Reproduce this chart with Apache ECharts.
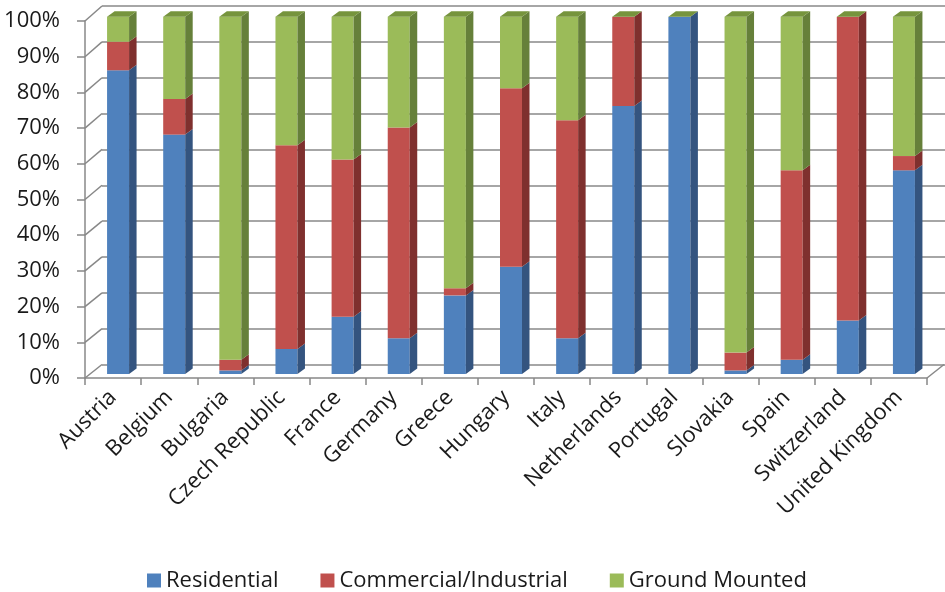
<!DOCTYPE html>
<html><head><meta charset="utf-8">
<script src="https://cdn.jsdelivr.net/npm/echarts@6/dist/echarts.min.js"></script>
<style>html,body{margin:0;padding:0;background:#fff}#c{width:945px;height:592px}</style>
</head><body><div id="c"></div>
<script>
// ---- data ----
const categories = ['Austria','Belgium','Bulgaria','Czech Republic','France','Germany','Greece','Hungary','Italy','Netherlands','Portugal','Slovakia','Spain','Switzerland','United Kingdom'];
const residential = [85, 67, 1, 7, 16, 10, 22, 30, 10, 75, 100, 1, 4, 15, 57];
const commercial  = [8, 10, 3, 57, 44, 59, 2, 50, 61, 25, 0, 5, 53, 85, 4];
const ground      = [7, 23, 96, 36, 40, 31, 76, 20, 29, 0, 0, 94, 43, 0, 39];
const seriesNames = ['Residential', 'Commercial/Industrial', 'Ground Mounted'];
const yTicks = [0, 10, 20, 30, 40, 50, 60, 70, 80, 90, 100];

// ---- styles ----
const FONT = 'Open Sans';
const GRID_COLOR = '#888888';
const COLORS = [
  {front:'#4F81BD', side:'#34547F', top:'#3F6696'},
  {front:'#C0504D', side:'#7F302E', top:'#963A38'},
  {front:'#9BBB59', side:'#66803A', top:'#76943D'}
];
const BW = 22, DX = 7.5, DY = 5.5;

const seriesValues = [residential, commercial, ground];
function stackData(i){
  return categories.map((_, c) => {
    let base = 0;
    for (let k = 0; k < i; k++) base += seriesValues[k][c];
    return [c, base, base + seriesValues[i][c]];
  });
}

function barRender(si){
  return function(params, api){
    const c = api.value(0), v0 = api.value(1), v1 = api.value(2);
    const p0 = api.coord([c, v0]), p1 = api.coord([c, v1]);
    const xL = p0[0] - BW / 2, xR = xL + BW;
    const col = COLORS[si];
    const children = [];
    if (v1 > v0) {
      children.push({type:'rect', shape:{x:xL, y:p1[1], width:BW, height:p0[1]-p1[1]}, style:{fill:col.front}});
      children.push({type:'polygon', shape:{points:[[xR,p0[1]],[xR+DX,p0[1]-DY],[xR+DX,p1[1]-DY],[xR,p1[1]]]}, style:{fill:col.side}});
    }
    if (si === 2) {
      children.push({type:'polygon', shape:{points:[[xL,p1[1]],[xR,p1[1]],[xR+DX,p1[1]-DY],[xL+DX,p1[1]-DY]]}, style:{fill:col.top}});
    }
    return {type:'group', children};
  };
}

const chart = echarts.init(document.getElementById('c'), null, {renderer:'canvas'});
const option = {
  backgroundColor:'#fff',
  animation:false,
  textStyle:{fontFamily:FONT},
  grid:[
    {left:102, top:6, right:0, height:358.5},          // back wall
    {left:85, top:21, width:842, height:357},          // front plane
    {left:90, top:16.7, width:842, height:357.3}       // bar fronts
  ],
  xAxis:[
    {gridIndex:0, type:'category', data:categories, show:false},
    {gridIndex:1, type:'category', data:categories,
      axisLine:{show:true, lineStyle:{color:GRID_COLOR, width:1.5}},
      axisTick:{show:true, length:7, lineStyle:{color:GRID_COLOR, width:1.5}},
      axisLabel:{interval:0, rotate:45, margin:16, fontSize:22, color:'#1a1a1a', fontFamily:FONT}},
    {gridIndex:2, type:'category', data:categories, show:false}
  ],
  yAxis:[
    {gridIndex:0, type:'value', min:0, max:100, interval:10,
      axisLine:{show:false}, axisTick:{show:false}, axisLabel:{show:false},
      splitLine:{show:true, lineStyle:{color:GRID_COLOR, width:1.5}}},
    {gridIndex:1, type:'value', min:0, max:100, interval:10,
      axisLine:{show:true, lineStyle:{color:GRID_COLOR, width:1.5}},
      axisTick:{show:true, length:8, lineStyle:{color:GRID_COLOR, width:1.5}},
      axisLabel:{formatter:'{value}%', margin:25, fontSize:22, color:'#1a1a1a', fontFamily:FONT},
      splitLine:{show:false}},
    {gridIndex:2, type:'value', min:0, max:100, show:false, splitLine:{show:false}}
  ],
  legend:{
    data:seriesNames, left:142, top:563, icon:'rect', itemWidth:14, itemHeight:14, itemGap:42,
    textStyle:{fontSize:22, color:'#1a1a1a', fontFamily:FONT, lineHeight:25}
  },
  series:[
    // left side wall diagonals
    {type:'custom', xAxisIndex:1, yAxisIndex:1, silent:true, legendHoverLink:false,
      data:yTicks.map(v => [0, v]),
      renderItem:function(params, api){
        const v = api.value(1);
        const p = api.coord([0, v]);
        const x0 = p[0] - api.size([1, 0])[0] / 2;
        const dy = 13.5 + 0.015 * v;
        return {type:'line', shape:{x1:x0, y1:p[1], x2:x0 + 17, y2:p[1] - dy}, style:{stroke:GRID_COLOR, lineWidth:1.5}};
      }},
    // right floor diagonal
    {type:'custom', xAxisIndex:1, yAxisIndex:1, silent:true,
      data:[[categories.length - 1, 0]],
      renderItem:function(params, api){
        const p = api.coord([api.value(0), api.value(1)]);
        const x0 = p[0] + api.size([1, 0])[0] / 2;
        return {type:'line', shape:{x1:x0, y1:p[1], x2:x0 + 17, y2:p[1] - 13.5}, style:{stroke:GRID_COLOR, lineWidth:1.5}};
      }},
    ...seriesNames.map((name, i) => ({
      name, type:'custom', xAxisIndex:2, yAxisIndex:2,
      itemStyle:{color:COLORS[i].front},
      encode:{x:0, y:[1, 2]},
      data:stackData(i),
      renderItem:barRender(i)
    }))
  ]
};
chart.setOption(option);
</script></body></html>
